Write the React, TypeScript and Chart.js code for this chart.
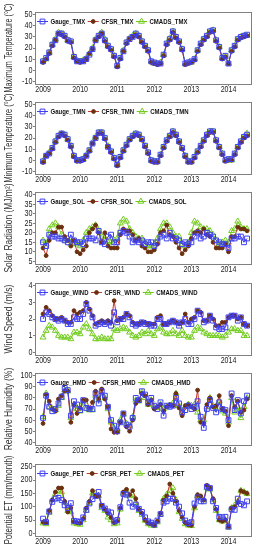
import React, { useEffect, useRef } from 'react';
import { Chart, registerables } from 'chart.js';

Chart.register(...registerables);

// ---------- categories / ticks ----------
const monthIndex: number[] = Array.from({ length: 67 }, (_, i) => i); // Jan 2009 .. Jul 2014
const years = ['2009', '2010', '2011', '2012', '2013', '2014'];
const yearTickMonths = [0, 12, 24, 36, 48, 60];

// ---------- Maximum temperature ----------
const tmxGauge = [8, 11, 16, 23, 27, 33, 33, 31, 27, 26, 12, 8, 8, 8, 10, 14, 19, 27, 31, 33, 27, 22, 19, 13, 4, 11, 17, 25, 28, 30, 33, 31, 26, 22, 18, 8, 7, 6, 6, 14, 24, 28, 35, 30, 26, 19, 6, 7, 8, 10, 18, 24, 28, 31, 35, 36, 27, 21, 11, 13, 6, 18, 22, 28, 30, 31, 32];
const tmxCfsr = [7, 10, 15, 22, 27, 33, 32, 30, 26, 25, 11, 8, 7, 8, 10, 15, 19, 27, 30, 33, 26, 21, 18, 12, 3, 10, 17, 24, 28, 30, 32, 30, 25, 21, 17, 7, 6, 5, 6, 13, 23, 27, 34, 29, 25, 18, 5, 6, 7, 9, 17, 23, 27, 30, 34, 35, 26, 20, 10, 12, 6, 17, 21, 27, 29, 30, 31];
const tmxCmads = [8, 10, 16, 23, 28, 34, 33, 31, 27, 26, 12, 9, 8, 9, 11, 15, 20, 28, 31, 34, 28, 22, 19, 13, 4, 11, 18, 25, 29, 31, 33, 31, 26, 22, 18, 8, 6, 6, 7, 14, 24, 29, 35, 30, 26, 19, 6, 7, 7, 10, 18, 24, 28, 31, 35, 36, 27, 21, 11, 12, 6, 18, 22, 28, 30, 31, 31];
const tmxTicks = [-10, 0, 10, 20, 30, 40, 50];

// ---------- Minimum temperature ----------
const tmnGauge = [-1, 4, 6, 11, 17, 22, 24, 23, 19, 13, 4, 0, 0, 1, 4, 9, 15, 20, 25, 25, 20, 12, 8, 2, -4, 3, 9, 14, 19, 22, 24, 23, 19, 13, 7, 0, -1, -1, 5, 12, 18, 22, 26, 23, 17, 11, 4, -1, -1, 3, 8, 13, 18, 23, 26, 26, 18, 12, 6, 0, 1, 1, 6, 12, 17, 21, 23];
const tmnCfsr = [-2, 4, 6, 10, 16, 21, 24, 22, 18, 12, 3, -1, -1, 0, 4, 8, 15, 20, 24, 24, 19, 12, 7, 1, -5, 2, 8, 13, 18, 21, 23, 22, 18, 12, 6, -1, -2, -2, 4, 11, 17, 21, 25, 22, 16, 10, 3, -2, -2, 2, 7, 12, 17, 22, 25, 25, 17, 11, 5, -1, 0, 0, 5, 11, 16, 20, 22];
const tmnCmads = [-1, 4, 7, 11, 17, 22, 24, 23, 19, 13, 4, 0, 0, 1, 5, 9, 16, 21, 25, 25, 20, 13, 8, 2, -4, 3, 9, 14, 19, 22, 24, 23, 19, 13, 7, 0, -1, -1, 5, 12, 18, 22, 26, 23, 17, 11, 4, -1, -1, 3, 8, 13, 18, 23, 26, 26, 18, 12, 6, 0, 0, 0, 6, 12, 17, 21, 24];
const tmnTicks = [-10, 0, 10, 20, 30, 40, 50];

// ---------- Solar radiation ----------
const solGauge = [15, 13, 19, 18, 18, 17, 17, 16, 15, 19, 16, 15, 15, 14, 17, 17, 17, 16, 21, 15, 14, 18, 19, 15, 15, 20, 21, 20, 18, 15, 16, 15, 16, 14, 15, 15, 13, 15, 18, 19, 17, 20, 17, 17, 16, 14, 15, 14, 15, 18, 20, 17, 18, 20, 19, 18, 16, 15, 14, 14, 12, 17, 17, 18, 18, 15, 17];
const solCfsr = [12, 8, 16, 20, 20, 23, 23, 18, 16, 13, 16, 10, 9, 11, 13, 20, 22, 24, 20, 15, 20, 13, 12, 12, 12, 19, 22, 21, 21, 19, 16, 17, 13, 12, 10, 10, 11, 14, 20, 21, 24, 19, 18, 15, 12, 9, 11, 13, 17, 20, 21, 20, 22, 19, 18, 15, 12, 12, 12, 14, 10, 18, 18, 23, 22, 22, 21];
const solCmads = [16, 14, 22, 24, 25, 23, 19, 16, 17, 14, 15, 14, 13, 16, 20, 22, 23, 24, 21, 18, 17, 15, 15, 16, 17, 25, 27, 26, 22, 20, 18, 17, 17, 15, 13, 13, 14, 17, 22, 25, 25, 23, 20, 18, 18, 14, 13, 15, 20, 26, 25, 23, 22, 22, 21, 19, 16, 14, 15, 16, 15, 21, 22, 26, 23, 22, 22];
const solTicks = [5, 10, 15, 20, 25, 30, 35, 40];

// ---------- Wind speed ----------
const windGauge = [2.0, 2.4, 2.3, 2.1, 2.0, 1.9, 2.0, 1.9, 1.7, 1.7, 2.1, 2.0, 2.0, 2.3, 2.9, 2.5, 2.1, 1.6, 1.7, 1.8, 1.7, 1.8, 1.6, 2.4, 1.8, 2.0, 2.0, 2.3, 2.1, 1.7, 1.6, 1.7, 1.8, 1.7, 1.7, 1.6, 1.6, 2.0, 2.0, 1.7, 1.7, 1.8, 1.9, 1.8, 1.6, 1.8, 2.0, 1.7, 1.7, 2.0, 2.5, 2.3, 1.8, 1.9, 2.2, 1.9, 1.5, 1.4, 1.4, 1.5, 2.1, 2.2, 2.2, 1.9, 2.1, 1.7, 1.6];
const windCfsr = [2.3, 2.7, 2.5, 2.2, 2.0, 2.0, 2.1, 1.9, 1.8, 1.8, 2.5, 2.3, 2.4, 2.5, 3.0, 2.6, 2.2, 1.7, 1.8, 1.9, 1.8, 1.9, 1.8, 3.1, 1.9, 2.0, 2.1, 2.3, 2.2, 1.8, 1.7, 1.7, 1.8, 1.8, 1.7, 1.7, 1.7, 2.1, 2.2, 1.7, 1.7, 1.8, 1.9, 1.8, 1.7, 1.8, 2.3, 1.8, 2.0, 2.1, 2.5, 2.4, 1.9, 1.9, 2.2, 2.0, 1.6, 1.6, 1.8, 1.8, 2.1, 2.2, 2.2, 2.0, 2.1, 1.7, 1.6];
const windCmads = [0.9, 1.3, 1.6, 1.5, 1.3, 1.0, 0.9, 0.9, 0.9, 0.8, 1.2, 1.2, 1.1, 1.5, 1.7, 1.4, 1.1, 0.8, 0.8, 0.9, 0.8, 0.8, 0.8, 1.4, 1.3, 1.4, 1.5, 1.4, 1.2, 1.0, 0.9, 1.0, 1.2, 1.1, 1.3, 1.1, 1.0, 1.4, 1.5, 1.2, 1.1, 1.1, 1.3, 1.1, 1.0, 1.3, 1.0, 0.9, 0.9, 1.3, 1.5, 1.4, 1.2, 1.1, 1.0, 1.0, 1.0, 1.0, 0.9, 1.0, 1.2, 1.4, 1.4, 1.3, 1.3, 1.0, 1.0];
const windTicks = [0, 1, 2, 3, 4];

// ---------- Relative humidity ----------
const hmdGauge = [62, 82, 72, 68, 70, 75, 81, 89, 87, 64, 77, 74, 69, 78, 71, 70, 70, 84, 75, 86, 82, 72, 60, 55, 50, 58, 66, 56, 54, 62, 80, 78, 86, 83, 76, 80, 73, 70, 76, 64, 73, 72, 73, 80, 75, 67, 69, 73, 70, 72, 77, 63, 53, 70, 78, 71, 67, 76, 70, 69, 60, 84, 69, 78, 66, 77, 82];
const hmdCfsr = [57, 83, 77, 70, 68, 79, 82, 86, 86, 58, 74, 66, 71, 78, 78, 71, 76, 86, 79, 88, 79, 72, 52, 49, 49, 58, 66, 54, 50, 60, 75, 78, 84, 82, 74, 78, 70, 72, 74, 68, 72, 74, 73, 84, 71, 64, 73, 74, 72, 70, 87, 58, 57, 74, 80, 72, 73, 82, 70, 68, 55, 82, 72, 77, 67, 69, 79];
const hmdCmads = [63, 84, 72, 70, 69, 73, 80, 87, 86, 62, 74, 70, 68, 76, 70, 69, 69, 82, 78, 84, 80, 70, 58, 53, 52, 60, 65, 57, 55, 63, 78, 77, 85, 80, 74, 78, 72, 71, 74, 70, 72, 73, 75, 84, 73, 68, 72, 74, 73, 74, 67, 60, 60, 72, 80, 73, 70, 77, 68, 66, 58, 80, 67, 72, 62, 72, 80];
const hmdTicks = [40, 50, 60, 70, 80, 90, 100];

// ---------- Potential ET ----------
const petGauge = [55, 42, 82, 118, 130, 133, 125, 105, 95, 113, 47, 45, 43, 60, 88, 112, 128, 140, 155, 103, 93, 82, 78, 45, 50, 98, 148, 145, 115, 100, 108, 92, 80, 60, 45, 40, 33, 48, 72, 115, 120, 130, 130, 115, 100, 75, 48, 38, 42, 112, 135, 120, 120, 175, 170, 120, 95, 62, 60, 62, 25, 90, 88, 130, 110, 105, 120];
const petCfsr = [42, 40, 85, 125, 155, 170, 170, 120, 80, 95, 43, 40, 38, 55, 95, 120, 160, 140, 140, 105, 90, 75, 60, 40, 45, 95, 155, 165, 145, 160, 130, 90, 75, 50, 38, 35, 30, 45, 75, 125, 140, 185, 150, 120, 85, 60, 40, 32, 30, 100, 145, 140, 125, 180, 170, 130, 90, 50, 45, 50, 25, 95, 100, 115, 160, 155, 150];
const petCmads = [38, 35, 78, 125, 148, 160, 155, 115, 85, 80, 38, 35, 33, 50, 85, 115, 150, 150, 140, 95, 85, 60, 50, 35, 38, 90, 150, 160, 140, 145, 115, 85, 70, 48, 35, 30, 28, 42, 70, 130, 145, 160, 170, 125, 80, 55, 35, 30, 28, 95, 140, 135, 125, 170, 165, 125, 85, 50, 45, 48, 22, 95, 105, 120, 160, 155, 148];
const petTicks = [0, 50, 100, 150, 200, 250];

// ---------- panel definitions ----------
const titles = [
  'Maximum Temperature (°C)',
  'Minimum Temperature (°C)',
  'Solar Radiation (MJ/m²)',
  'Wind Speed (m/s)',
  'Relative Humidity (%)',
  'Potential ET (mm/month)',
];
const suffixes = ['TMX', 'TMN', 'SOL', 'WIND', 'HMD', 'PET'];
const sourceNames = ['Gauge', 'CFSR', 'CMADS'];
const panelData = [
  [tmxGauge, tmxCfsr, tmxCmads],
  [tmnGauge, tmnCfsr, tmnCmads],
  [solGauge, solCfsr, solCmads],
  [windGauge, windCfsr, windCmads],
  [hmdGauge, hmdCfsr, hmdCmads],
  [petGauge, petCfsr, petCmads],
];
const panelTicks = [tmxTicks, tmnTicks, solTicks, windTicks, hmdTicks, petTicks];

// ---------- styling ----------
const FONT = "'Liberation Sans', Arial, sans-serif";
const PANEL_TOPS = [12, 102, 192, 283, 373, 464];
const CANVAS_W = 259;
const CANVAS_H = 170;
const PAD_TOP = 50;
const BOX_H = 72;
const XAXIS_H = 12;
const SQUEEZE = 0.8;
const TITLE_MAX = 89;
const styles = [
  { line: '#3f3ff0', point: '#3f3ff0', fill: 'rgba(0,0,0,0)', shape: 'rect', r: 3.4 },
  { line: '#c0392b', point: '#6a3010', fill: '#6a3010', shape: 'circle', r: 1.9 },
  { line: '#72cc1e', point: '#72cc1e', fill: 'rgba(0,0,0,0)', shape: 'triangle', r: 3.4 },
];

function drawMarker(ctx: CanvasRenderingContext2D, shape: string, x: number, y: number, r: number) {
  ctx.beginPath();
  if (shape === 'rect') {
    const s = r * Math.SQRT1_2;
    ctx.rect(x - s, y - s, 2 * s, 2 * s);
  } else if (shape === 'circle') {
    ctx.arc(x, y, r, 0, Math.PI * 2);
  } else {
    ctx.moveTo(x, y - r);
    ctx.lineTo(x + r * 0.866, y + r * 0.5);
    ctx.lineTo(x - r * 0.866, y + r * 0.5);
    ctx.closePath();
  }
}

// draws text horizontally squeezed (the reference uses a narrow-looking face)
function squeezedText(ctx: CanvasRenderingContext2D, text: string, x: number, y: number, k: number, cap = Infinity) {
  const w = Math.min(ctx.measureText(text).width * k, cap);
  ctx.fillText(text, x, y, w);
  return w;
}

const boxPlugin = {
  id: 'plotBox',
  beforeDatasetsDraw(chart: any) {
    const { ctx, chartArea } = chart;
    ctx.save();
    ctx.strokeStyle = '#808080';
    ctx.lineWidth = 1;
    ctx.strokeRect(
      Math.round(chartArea.left) + 0.5,
      Math.round(chartArea.top) + 0.5,
      Math.round(chartArea.right - chartArea.left) - 1,
      Math.round(chartArea.bottom - chartArea.top)
    );
    ctx.restore();
  },
};

const axisTextPlugin = {
  id: 'axisText',
  afterDraw(chart: any) {
    const { ctx, chartArea, scales } = chart;
    const idx = chart.options.plugins.axisText.index;
    ctx.save();
    ctx.fillStyle = '#222';
    // y tick labels
    ctx.font = `9px ${FONT}`;
    ctx.textAlign = 'right';
    ctx.textBaseline = 'middle';
    panelTicks[idx].forEach((v) => {
      squeezedText(ctx, String(v), chartArea.left - 2.5, scales.y.getPixelForValue(v), 0.8);
    });
    // x tick labels
    ctx.textAlign = 'center';
    yearTickMonths.forEach((m, i) => {
      squeezedText(ctx, years[i], scales.x.getPixelForValue(m), chartArea.bottom + 6, 0.78);
    });
    // y title
    ctx.font = `10px ${FONT}`;
    ctx.fillStyle = '#333';
    ctx.translate(9.5, (chartArea.top + chartArea.bottom) / 2);
    ctx.rotate(-Math.PI / 2);
    ctx.textAlign = 'center';
    squeezedText(ctx, titles[idx], 0, 0, 0.86, TITLE_MAX);
    ctx.restore();
  },
};

const legendPlugin = {
  id: 'innerLegend',
  afterDraw(chart: any) {
    const { ctx, chartArea } = chart;
    ctx.save();
    ctx.font = `bold 7.5px ${FONT}`;
    ctx.textBaseline = 'middle';
    ctx.textAlign = 'left';
    let x = chartArea.left + 2;
    const y = chartArea.top + 9.5;
    chart.data.datasets.forEach((ds: any, i: number) => {
      const st = styles[i];
      ctx.strokeStyle = st.line;
      ctx.lineWidth = 1;
      ctx.beginPath();
      ctx.moveTo(x, y);
      ctx.lineTo(x + 11, y);
      ctx.stroke();
      drawMarker(ctx, st.shape, x + 5.5, y, st.r);
      ctx.fillStyle = st.fill;
      ctx.fill();
      ctx.strokeStyle = st.point;
      ctx.stroke();
      ctx.fillStyle = '#111';
      const w = squeezedText(ctx, ds.label, x + 13.5, y, SQUEEZE);
      x += 13.5 + w + 2.5;
    });
    ctx.restore();
  },
};

function Panel({ index }: { index: number }) {
  const ref = useRef<HTMLCanvasElement | null>(null);
  useEffect(() => {
    if (!ref.current) return;
    const ticks = panelTicks[index];
    const tMin = ticks[0];
    const tMax = ticks[ticks.length - 1];
    const ext = (tMax - tMin) * 0.04;
    const datasets = panelData[index].map((arr, i) => ({
      label: `${sourceNames[i]}_${suffixes[index]}`,
      data: arr,
      borderColor: styles[i].line,
      borderWidth: 1,
      pointStyle: styles[i].shape,
      pointRadius: styles[i].r,
      pointBorderWidth: 1,
      pointBorderColor: styles[i].point,
      pointBackgroundColor: styles[i].fill,
      tension: 0,
      fill: false,
    }));
    const chart = new Chart(ref.current, {
      type: 'line',
      data: { labels: monthIndex, datasets },
      options: {
        animation: false,
        responsive: false,
        maintainAspectRatio: false,
        layout: {
          padding: { top: PAD_TOP, bottom: CANVAS_H - PAD_TOP - BOX_H - XAXIS_H, left: 0, right: 7 },
        },
        plugins: { legend: { display: false }, tooltip: { enabled: false }, axisText: { index } },
        scales: {
          x: {
            type: 'linear',
            min: -2.6,
            max: 67.6,
            afterBuildTicks: (s: any) => {
              s.ticks = yearTickMonths.map((v) => ({ value: v }));
            },
            afterFit: (s: any) => {
              s.height = XAXIS_H;
            },
            ticks: { display: false, autoSkip: false },
            grid: { display: true, drawOnChartArea: false, drawTicks: true, tickLength: 2, color: '#808080' },
            border: { display: false },
          },
          y: {
            min: tMin - ext,
            max: tMax + ext,
            afterBuildTicks: (s: any) => {
              s.ticks = ticks.map((v) => ({ value: v }));
            },
            afterFit: (s: any) => {
              s.width = 35;
            },
            ticks: { display: false },
            grid: { display: true, drawOnChartArea: false, drawTicks: true, tickLength: 2, color: '#808080' },
            border: { display: false },
          },
        },
      } as any,
      plugins: [boxPlugin, axisTextPlugin, legendPlugin],
    });
    return () => chart.destroy();
  }, [index]);
  return (
    <canvas
      ref={ref}
      width={CANVAS_W}
      height={CANVAS_H}
      style={{
        position: 'absolute',
        left: 0,
        top: PANEL_TOPS[index] - PAD_TOP,
        width: CANVAS_W,
        height: CANVAS_H,
        display: 'block',
      }}
    />
  );
}

export default function App() {
  return (
    <div
      style={{
        position: 'fixed',
        left: 0,
        top: 0,
        width: 259,
        height: 550,
        background: '#fff',
        overflow: 'hidden',
      }}
    >
      {titles.map((_, i) => (
        <Panel key={i} index={i} />
      ))}
    </div>
  );
}
